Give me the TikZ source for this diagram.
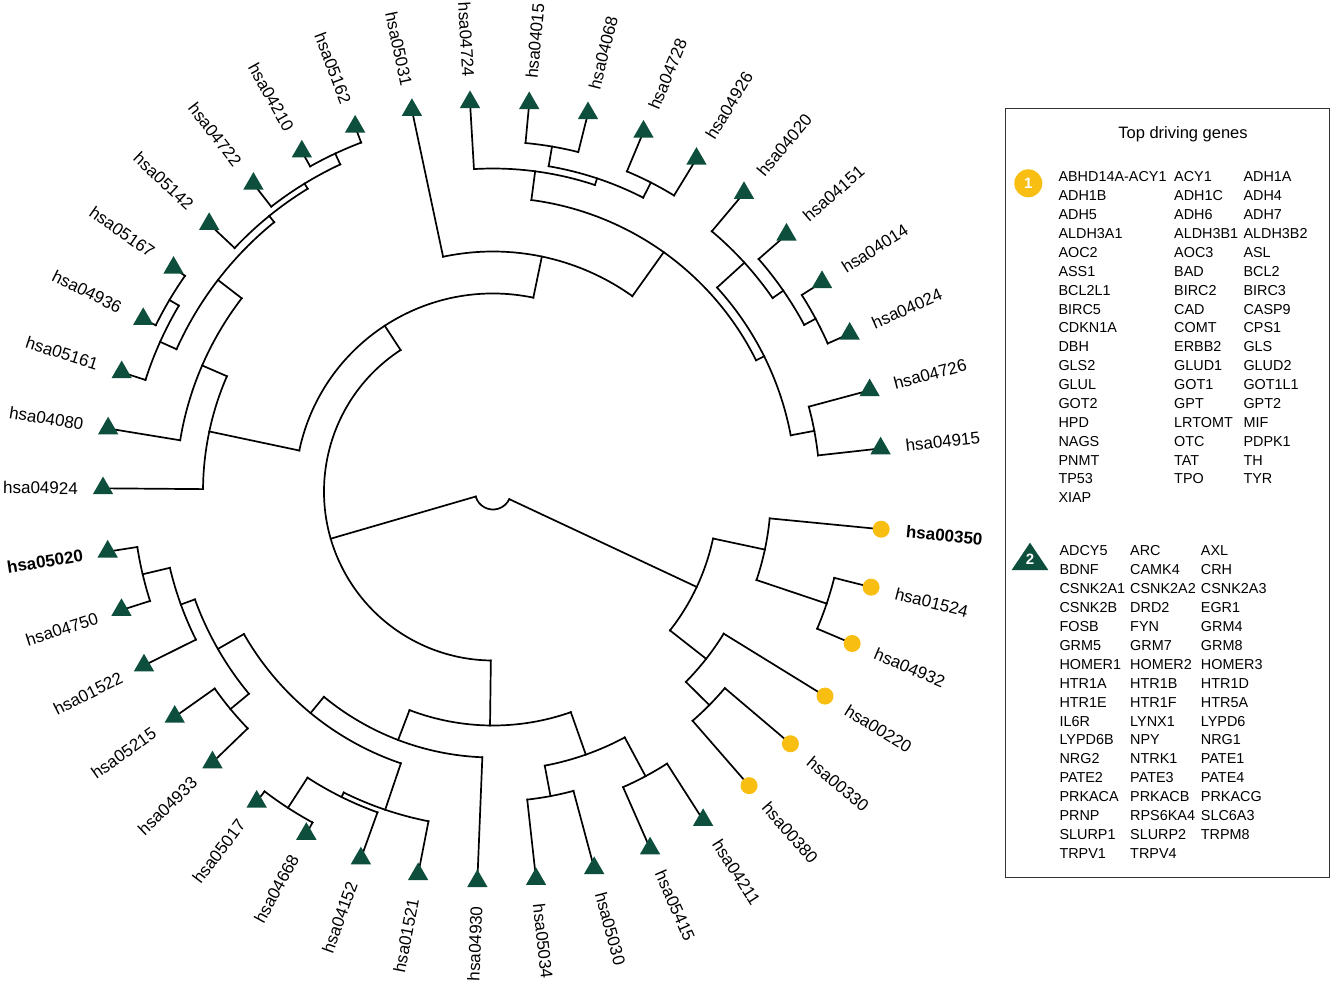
\documentclass[tikz,border=0pt]{standalone}
\usepackage{fontspec}
\setmainfont{Liberation Sans}
\usetikzlibrary{shapes.geometric}
\definecolor{trigreen}{HTML}{0D4F3C}
\definecolor{dotgold}{HTML}{F9BE12}
\definecolor{boxgray}{HTML}{333333}
\pgfdeclarelayer{back}
\pgfdeclarelayer{bg}
\pgfsetlayers{back,bg,main}
\tikzset{
 br/.style={line width=1.7pt, line cap=rect, black},
 trimark/.style={regular polygon, regular polygon sides=3, minimum size=23.5pt, inner sep=0pt, fill=trigreen},
 dotmark/.style={circle, minimum size=17pt, inner sep=0pt, fill=dotgold},
 lab/.style={inner sep=0pt, font=\fontsize{17}{19}\selectfont},
 gene/.style={inner sep=0pt, anchor=base west, font=\fontsize{14.4}{16}\selectfont},
}
\newcommand\leafR[4]{\node[#4] (#1) at (#2:390) {}; \node[lab,anchor=west,rotate=#2] (#1t) at (#2:415) {#3};}
\newcommand\leafL[4]{\node[#4] (#1) at (#2:390) {}; \node[lab,anchor=east,rotate=#2-180] (#1t) at (#2:415) {#3};}
\newcommand\treearc[3]{\draw[br] (#1:#3) arc[start angle=#1, end angle=#2, radius=#3];}
\newcommand\kid[3]{\draw[br] (#1:#2) -- (#3);}
\newcommand\growA[4]{%
 \node[gene] (ga#1x) at (1058.3,{-181.9-18.88*(#1-1)}) {#2};
 \node[gene] (ga#1y) at (1174,{-181.9-18.88*(#1-1)}) {#3};
 \node[gene] (ga#1z) at (1243.3,{-181.9-18.88*(#1-1)}) {#4};}
\newcommand\growB[4]{%
 \node[gene] (gb#1x) at (1059.3,{-555.9-18.9*(#1-1)}) {#2};
 \node[gene] (gb#1y) at (1130,{-555.9-18.9*(#1-1)}) {#3};
 \node[gene] (gb#1z) at (1200.7,{-555.9-18.9*(#1-1)}) {#4};}
\begin{document}
\begin{tikzpicture}[x=1pt,y=1pt]
\useasboundingbox (0,0) rectangle (1334,-986);
\begin{pgfonlayer}{back}
\fill[white] (0,0) rectangle (1334,-986);
\end{pgfonlayer}
\begin{scope}[shift={(493,-491.5)}]
% leaves
\leafL{l0}{179.53}{hsa04924}{trimark}
\leafL{l1}{170.7}{hsa04080}{trimark}
\leafL{l2}{162.2}{hsa05161}{trimark}
\leafL{l3}{153.76}{hsa04936}{trimark}
\leafL{l4}{145.0}{hsa05167}{trimark}
\leafL{l5}{136.7}{hsa05142}{trimark}
\leafL{l6}{127.9}{hsa04722}{trimark}
\leafL{l7}{119.35}{hsa04210}{trimark}
\leafL{l8}{110.7}{hsa05162}{trimark}
\leafL{l9}{102.0}{hsa05031}{trimark}
\leafL{l10}{93.38}{hsa04724}{trimark}
\leafR{l11}{84.67}{hsa04015}{trimark}
\leafR{l12}{75.9}{hsa04068}{trimark}
\leafR{l13}{67.3}{hsa04728}{trimark}
\leafR{l14}{58.55}{hsa04926}{trimark}
\leafR{l15}{49.94}{hsa04020}{trimark}
\leafR{l16}{41.19}{hsa04151}{trimark}
\leafR{l17}{32.47}{hsa04014}{trimark}
\leafR{l18}{23.86}{hsa04024}{trimark}
\leafR{l19}{15.04}{hsa04726}{trimark}
\leafR{l20}{6.34}{hsa04915}{trimark}
\leafR{l21}{-5.55}{\textbf{hsa00350}}{dotmark}
\leafR{l22}{-14.2}{hsa01524}{dotmark}
\leafR{l23}{-22.94}{hsa04932}{dotmark}
\leafR{l24}{-31.64}{hsa00220}{dotmark}
\leafR{l25}{-40.3}{hsa00330}{dotmark}
\leafR{l26}{-48.96}{hsa00380}{dotmark}
\leafR{l27}{302.6}{hsa04211}{trimark}
\leafR{l28}{293.75}{hsa05415}{trimark}
\leafR{l29}{285.04}{hsa05030}{trimark}
\leafR{l30}{276.34}{hsa05034}{trimark}
\leafL{l31}{267.7}{hsa04930}{trimark}
\leafL{l32}{258.93}{hsa01521}{trimark}
\leafL{l33}{250.2}{hsa04152}{trimark}
\leafL{l34}{241.4}{hsa04668}{trimark}
\leafL{l35}{232.7}{hsa05017}{trimark}
\leafL{l36}{224.0}{hsa04933}{trimark}
\leafL{l37}{215.3}{hsa05215}{trimark}
\leafL{l38}{206.5}{hsa01522}{trimark}
\leafL{l39}{197.7}{hsa04750}{trimark}
\leafL{l40}{188.87}{\textbf{hsa05020}}{trimark}
% internal nodes
\coordinate (root) at (265.56:18);
\coordinate (nL) at (196.21:169);
\coordinate (nR) at (-25.1:225);
\coordinate (nLA) at (123.15:198);
\coordinate (nLB) at (269.27:234);
\coordinate (nLAa) at (168.05:290);
\coordinate (nLAb) at (78.25:240);
\coordinate (nA18) at (156.57:317);
\coordinate (nA28) at (142.44:347);
\coordinate (nA24) at (155.79:365);
\coordinate (nA34) at (149.38:376);
\coordinate (nA58) at (129.08:355);
\coordinate (nA68) at (121.47:361);
\coordinate (nA78) at (115.03:373);
\coordinate (nZ) at (54.5:294);
\coordinate (nX) at (82.5:323);
\coordinate (nY) at (71.61:330);
\coordinate (nB1112) at (80.29:350);
\coordinate (nB1314) at (62.93:347);
\coordinate (nV) at (26.5:303);
\coordinate (nW1) at (42.31:340);
\coordinate (nW2) at (34.68:353);
\coordinate (nB1718) at (28.17:366);
\coordinate (nB1920) at (10.69:327);
\coordinate (nLB1) at (249.1:266);
\coordinate (nLB2) at (289.43:279);
\coordinate (nLBa) at (230.53:287);
\coordinate (nLBaL) at (209.78:317);
\coordinate (nYp) at (199.9:332);
\coordinate (nC3940) at (193.29:360);
\coordinate (nC3637) at (219.65:341);
\coordinate (nLBaR) at (251.28:336);
\coordinate (nXp) at (243.63:341);
\coordinate (nC3435) at (237.05:377);
\coordinate (nC2930) at (280.69:310);
\coordinate (nC2728) at (298.18:323);
\coordinate (nR1) at (-12.06:278);
\coordinate (nD2223) at (-18.57:352);
\coordinate (nR2) at (-38.13:271);
\coordinate (nR3) at (-44.63:304);
\begin{pgfonlayer}{bg}
\treearc{196.21}{334.9}{18}
\kid{196.21}{18}{nL} \kid{-25.1}{18}{nR}
\treearc{123.15}{269.27}{169}
\kid{123.15}{169}{nLA} \kid{269.27}{169}{nLB}
\treearc{78.25}{168.05}{198}
\kid{168.05}{198}{nLAa} \kid{78.25}{198}{nLAb}
\treearc{156.57}{179.53}{290}
\kid{179.53}{290}{l0.center} \kid{156.57}{290}{nA18}
\treearc{142.44}{170.7}{317}
\kid{170.7}{317}{l1.center} \kid{142.44}{317}{nA28}
\treearc{129.08}{155.79}{347}
\kid{155.79}{347}{nA24} \kid{129.08}{347}{nA58}
\treearc{149.38}{162.2}{365}
\kid{162.2}{365}{l2.center} \kid{149.38}{365}{nA34}
\treearc{145.0}{153.76}{376}
\kid{153.76}{376}{l3.center} \kid{145.0}{376}{l4.center}
\treearc{121.47}{136.7}{355}
\kid{136.7}{355}{l5.center} \kid{121.47}{355}{nA68}
\treearc{115.03}{127.9}{361}
\kid{127.9}{361}{l6.center} \kid{115.03}{361}{nA78}
\treearc{110.7}{119.35}{373}
\kid{119.35}{373}{l7.center} \kid{110.7}{373}{l8.center}
\treearc{54.5}{102.0}{240}
\kid{102.0}{240}{l9.center} \kid{54.5}{240}{nZ}
\treearc{26.5}{82.5}{294}
\kid{82.5}{294}{nX} \kid{26.5}{294}{nV}
\treearc{71.61}{93.38}{323}
\kid{93.38}{323}{l10.center} \kid{71.61}{323}{nY}
\treearc{62.93}{80.29}{330}
\kid{80.29}{330}{nB1112} \kid{62.93}{330}{nB1314}
\treearc{75.9}{84.67}{350}
\kid{84.67}{350}{l11.center} \kid{75.9}{350}{l12.center}
\treearc{58.55}{67.3}{347}
\kid{67.3}{347}{l13.center} \kid{58.55}{347}{l14.center}
\treearc{10.69}{42.31}{303}
\kid{42.31}{303}{nW1} \kid{10.69}{303}{nB1920}
\treearc{34.68}{49.94}{340}
\kid{49.94}{340}{l15.center} \kid{34.68}{340}{nW2}
\treearc{28.17}{41.19}{353}
\kid{41.19}{353}{l16.center} \kid{28.17}{353}{nB1718}
\treearc{23.86}{32.47}{366}
\kid{32.47}{366}{l17.center} \kid{23.86}{366}{l18.center}
\treearc{6.34}{15.04}{327}
\kid{15.04}{327}{l19.center} \kid{6.34}{327}{l20.center}
\treearc{249.1}{289.43}{234}
\kid{249.1}{234}{nLB1} \kid{289.43}{234}{nLB2}
\treearc{230.53}{267.7}{266}
\kid{230.53}{266}{nLBa} \kid{267.7}{266}{l31.center}
\treearc{209.78}{251.28}{287}
\kid{209.78}{287}{nLBaL} \kid{251.28}{287}{nLBaR}
\treearc{199.9}{219.65}{317}
\kid{199.9}{317}{nYp} \kid{219.65}{317}{nC3637}
\treearc{193.29}{206.5}{332}
\kid{206.5}{332}{l38.center} \kid{193.29}{332}{nC3940}
\treearc{188.87}{197.7}{360}
\kid{197.7}{360}{l39.center} \kid{188.87}{360}{l40.center}
\treearc{215.3}{224.0}{341}
\kid{224.0}{341}{l36.center} \kid{215.3}{341}{l37.center}
\treearc{243.63}{258.93}{336}
\kid{243.63}{336}{nXp} \kid{258.93}{336}{l32.center}
\treearc{237.05}{250.2}{341}
\kid{237.05}{341}{nC3435} \kid{250.2}{341}{l33.center}
\treearc{232.7}{241.4}{377}
\kid{241.4}{377}{l34.center} \kid{232.7}{377}{l35.center}
\treearc{280.69}{298.18}{279}
\kid{280.69}{279}{nC2930} \kid{298.18}{279}{nC2728}
\treearc{276.34}{285.04}{310}
\kid{285.04}{310}{l29.center} \kid{276.34}{310}{l30.center}
\treearc{293.75}{302.6}{323}
\kid{302.6}{323}{l27.center} \kid{293.75}{323}{l28.center}
\treearc{-38.13}{-12.06}{225}
\kid{-12.06}{225}{nR1} \kid{-38.13}{225}{nR2}
\treearc{-18.57}{-5.55}{278}
\kid{-5.55}{278}{l21.center} \kid{-18.57}{278}{nD2223}
\treearc{-22.94}{-14.2}{352}
\kid{-14.2}{352}{l22.center} \kid{-22.94}{352}{l23.center}
\treearc{-44.63}{-31.64}{271}
\kid{-31.64}{271}{l24.center} \kid{-44.63}{271}{nR3}
\treearc{-48.96}{-40.3}{304}
\kid{-40.3}{304}{l25.center} \kid{-48.96}{304}{l26.center}
\end{pgfonlayer}
\end{scope}
% legend
\node[draw=boxgray, line width=1.3pt, minimum width=324pt, minimum height=769pt, anchor=north west, inner sep=0pt] (legend) at (1005,-108) {};
\node[inner sep=0pt, font=\fontsize{16.5}{18}\selectfont] (title) at (1183,-134.3) {Top driving genes};
\node[circle, fill=dotgold, minimum size=28pt, inner sep=0pt, text=white, font=\fontsize{15}{16}\selectfont\bfseries] (g1) at (1028.3,-183.3) {1};
\fill[trigreen] (1030,-542.7) -- (1011.7,-570) -- (1048.3,-570) -- cycle;
\node[inner sep=0pt, text=white, font=\fontsize{15}{16}\selectfont\bfseries] (g2) at (1030,-559.5) {2};
\growA{1}{ABHD14A-ACY1}{ACY1}{ADH1A}
\growA{2}{ADH1B}{ADH1C}{ADH4}
\growA{3}{ADH5}{ADH6}{ADH7}
\growA{4}{ALDH3A1}{ALDH3B1}{ALDH3B2}
\growA{5}{AOC2}{AOC3}{ASL}
\growA{6}{ASS1}{BAD}{BCL2}
\growA{7}{BCL2L1}{BIRC2}{BIRC3}
\growA{8}{BIRC5}{CAD}{CASP9}
\growA{9}{CDKN1A}{COMT}{CPS1}
\growA{10}{DBH}{ERBB2}{GLS}
\growA{11}{GLS2}{GLUD1}{GLUD2}
\growA{12}{GLUL}{GOT1}{GOT1L1}
\growA{13}{GOT2}{GPT}{GPT2}
\growA{14}{HPD}{LRTOMT}{MIF}
\growA{15}{NAGS}{OTC}{PDPK1}
\growA{16}{PNMT}{TAT}{TH}
\growA{17}{TP53}{TPO}{TYR}
\node[gene] (ga18x) at (1058.3,{-181.9-18.88*17}) {XIAP};
\growB{1}{ADCY5}{ARC}{AXL}
\growB{2}{BDNF}{CAMK4}{CRH}
\growB{3}{CSNK2A1}{CSNK2A2}{CSNK2A3}
\growB{4}{CSNK2B}{DRD2}{EGR1}
\growB{5}{FOSB}{FYN}{GRM4}
\growB{6}{GRM5}{GRM7}{GRM8}
\growB{7}{HOMER1}{HOMER2}{HOMER3}
\growB{8}{HTR1A}{HTR1B}{HTR1D}
\growB{9}{HTR1E}{HTR1F}{HTR5A}
\growB{10}{IL6R}{LYNX1}{LYPD6}
\growB{11}{LYPD6B}{NPY}{NRG1}
\growB{12}{NRG2}{NTRK1}{PATE1}
\growB{13}{PATE2}{PATE3}{PATE4}
\growB{14}{PRKACA}{PRKACB}{PRKACG}
\growB{15}{PRNP}{RPS6KA4}{SLC6A3}
\growB{16}{SLURP1}{SLURP2}{TRPM8}
\node[gene] (gb17x) at (1059.3,{-555.9-18.9*16}) {TRPV1};
\node[gene] (gb17y) at (1130,{-555.9-18.9*16}) {TRPV4};
\end{tikzpicture}
\end{document}
